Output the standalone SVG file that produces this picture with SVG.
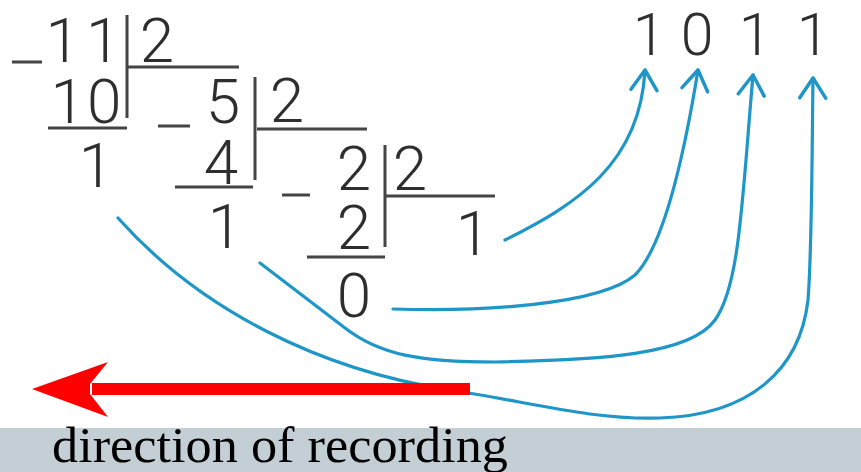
<svg xmlns="http://www.w3.org/2000/svg" width="861" height="472" viewBox="0 0 861 472">
<style>
.d{font-family:Roboto,"Liberation Sans",Arial,sans-serif;font-weight:300;font-size:62px;fill:#2e2e2e;text-anchor:middle}
.r{font-family:Roboto,"Liberation Sans",Arial,sans-serif;font-weight:300;font-size:59px;fill:#2e2e2e;text-anchor:middle}
.ln{stroke:#444;stroke-width:3;fill:none}
.bl{stroke:#1e96c8;stroke-width:3.2;fill:none;stroke-linecap:round;marker-end:url(#ah)}
</style>
<defs>
<marker id="ah" viewBox="-24 -16 28 32" refX="0" refY="0" markerWidth="28" markerHeight="32" markerUnits="userSpaceOnUse" orient="auto">
<path d="M-20,-13 L0,0 L-20,13" fill="none" stroke="#1e96c8" stroke-width="3.5" stroke-linecap="round" stroke-linejoin="round"/>
</marker>
</defs>
<rect x="0" y="0" width="861" height="472" fill="#fff"/>
<g id="division">
<text class="d" x="86" y="62" letter-spacing="6">11</text>
<text class="d" x="157" y="62">2</text>
<text class="d" x="87" y="123" letter-spacing="2">10</text>
<text class="d" x="96" y="187">1</text>
<text class="d" x="223" y="123">5</text>
<text class="d" x="287" y="122">2</text>
<text class="d" x="221" y="184">4</text>
<text class="d" x="225" y="248">1</text>
<text class="d" x="354" y="190">2</text>
<text class="d" x="410" y="190">2</text>
<text class="d" x="354" y="249">2</text>
<text class="d" x="354" y="317">0</text>
<text class="d" x="473" y="255">1</text>
<path class="ln" d="M12,62 H42 M127,15 V118 M127,67 H239 M48,128 H127 M158,126 H190 M255,77 V180 M257,129 H367 M175,187 H253 M282,195 H310 M385,145 V247 M385,196 H495 M307,257 H385"/>
</g>
<g id="result">
<text class="r" x="649" y="55">1</text>
<text class="r" x="697" y="55">0</text>
<text class="r" x="755" y="55">1</text>
<text class="r" x="813" y="55">1</text>
</g>
<g id="connectors">
<path class="bl" d="M505,240 C575,205 640,165 645,70"/>
<path class="bl" d="M393,309 C480,312 600,305 635,275 C665,245 685,150 698,70"/>
<path class="bl" d="M260,263 L345,328 C380,355 420,362 495,362 C600,360 690,355 715,320 C740,285 742,200 753,75"/>
<path class="bl" d="M118,218 C200,310 320,370 450,390 C530,402 590,420 660,418 C750,415 800,370 808,300 C812,250 812,150 813,78"/>
</g>
<g id="direction-arrow">
<rect x="92" y="383" width="378" height="12" fill="#ff0000"/>
<polygon points="32,389 108,362 90,384 90,394 108,417" fill="#ff0000"/>
</g>
<g id="caption">
<rect x="0" y="428" width="861" height="44" fill="#c4cfd5"/>
<text x="52" y="462" font-family="'Liberation Serif','Times New Roman',serif" font-size="50" fill="#000" textLength="456" lengthAdjust="spacingAndGlyphs">direction of recording</text>
</g>
</svg>
